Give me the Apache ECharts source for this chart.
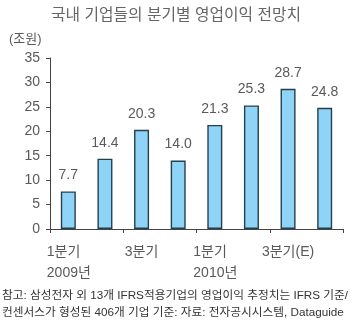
<!DOCTYPE html>
<html>
<head>
<meta charset="utf-8">
<script src="https://cdn.jsdelivr.net/npm/echarts@6/dist/echarts.min.js"></script>
<style>
  html, body { margin: 0; padding: 0; background: #fff; }
  #chart { width: 352px; height: 328px; }
</style>
</head>
<body>
<div id="chart"></div>
<script>
// Quarterly operating profit outlook (trillion won)
const quarters = ['1분기\n2009년', '2분기', '3분기', '4분기', '1분기\n2010년', '2분기', '3분기(E)', '4분기(E)'];
const profits = [7.7, 14.4, 20.3, 14.0, 21.3, 25.3, 28.7, 24.8];
const yTicks = [0, 5, 10, 15, 20, 25, 30, 35];

const FONT = "'Liberation Sans', 'Noto Sans CJK KR', sans-serif";
const TEXT = '#5a5a5a';

const chart = echarts.init(document.getElementById('chart'), null, { renderer: 'canvas' });
chart.setOption({
  animation: false,
  backgroundColor: '#fff',
  title: {
    text: '국내 기업들의 분기별 영업이익 전망치',
    left: 'center',
    top: 3,
    textStyle: { fontFamily: FONT, fontSize: 15.8, fontWeight: 'normal', color: '#666' }
  },
  graphic: [
    {
      type: 'text', left: 9, top: 33,
      style: { text: '(조원)', font: "13px " + FONT, fill: TEXT }
    },
    {
      type: 'text', left: 2, top: 287,
      style: {
        text: '참고: 삼성전자 외 13개 IFRS적용기업의 영업이익 추정치는 IFRS 기준/\n컨센서스가 형성된 406개 기업 기준: 자료: 전자공시시스템, Dataguide',
        font: "11.7px " + FONT, fill: '#333', lineHeight: 17
      }
    }
  ],
  grid: { left: 50, right: 9, top: 58, bottom: 99, containLabel: false },
  xAxis: {
    type: 'category',
    data: quarters,
    boundaryGap: true,
    axisLine: { show: true, lineStyle: { color: '#444', width: 1 } },
    axisTick: { show: true, interval: 1, length: 4, inside: false, lineStyle: { color: '#444' } },
    axisLabel: {
      interval: 1,
      margin: 13,
      fontFamily: FONT,
      fontSize: 14,
      color: TEXT,
      lineHeight: 21,
      formatter: function (v) {
        const parts = v.split('\n');
        if (parts.length > 1) {
          return parts.map(p => '{w|' + p + '}').join('\n');
        }
        return v;
      },
      rich: {
        w: { width: 46, align: 'left', padding: [0, 0, 0, 3], fontFamily: FONT, fontSize: 14, color: TEXT, lineHeight: 21 }
      }
    }
  },
  yAxis: {
    type: 'value',
    min: yTicks[0],
    max: yTicks[yTicks.length - 1],
    interval: 5,
    splitLine: { show: false },
    axisLine: { show: true, lineStyle: { color: '#444', width: 1 } },
    axisTick: { show: true, length: 4, lineStyle: { color: '#444' } },
    axisLabel: { margin: 10, fontFamily: FONT, fontSize: 14, color: TEXT }
  },
  series: [{
    type: 'bar',
    data: profits,
    barWidth: 15,
    itemStyle: { color: '#8fd3f6', borderColor: '#24404f', borderWidth: 1.4 },
    label: {
      show: true,
      position: 'top',
      distance: 9,
      fontFamily: FONT,
      fontSize: 14,
      color: TEXT,
      formatter: p => p.value.toFixed(1)
    }
  }]
});
</script>
</body>
</html>
